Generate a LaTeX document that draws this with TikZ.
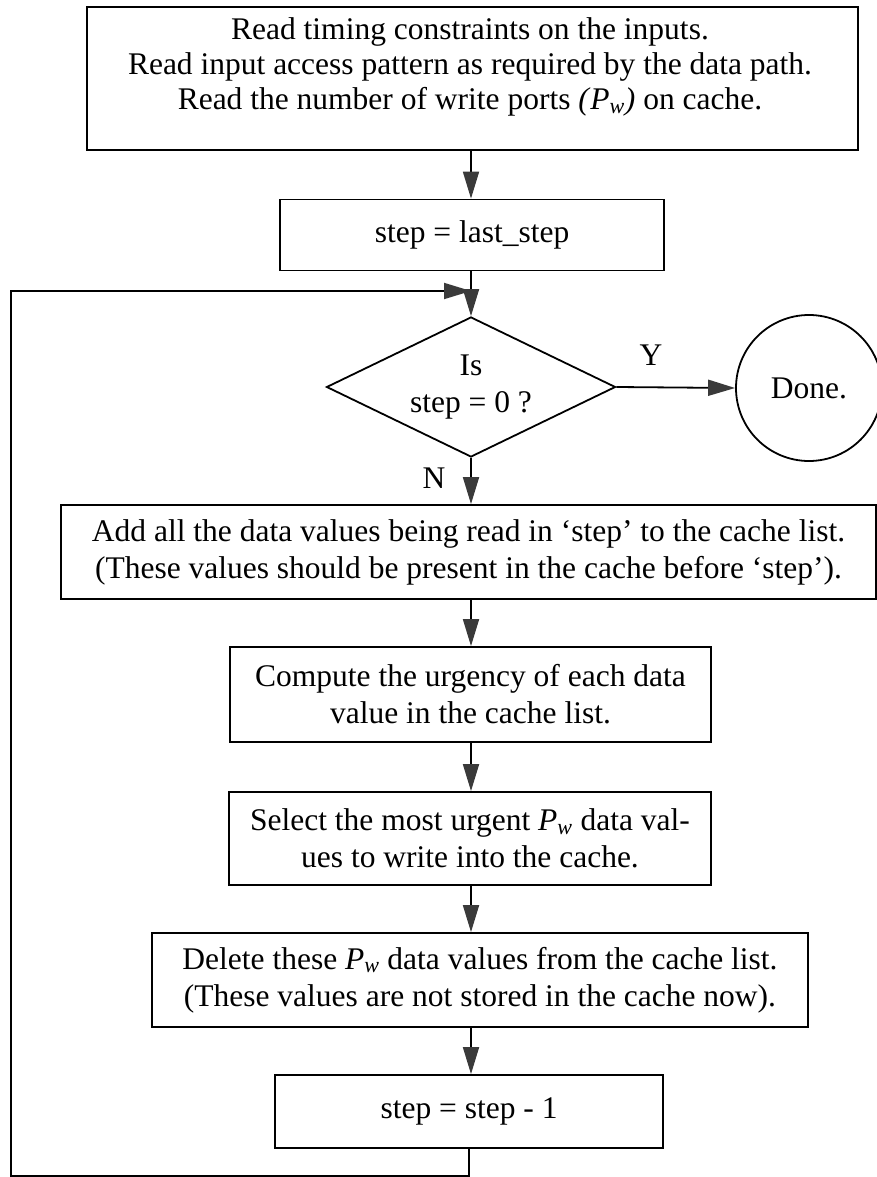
\documentclass[tikz,border=0pt]{standalone}
\usepackage{fontspec}
\setmainfont{Liberation Serif}
\usetikzlibrary{arrows.meta,shapes.geometric}
\definecolor{tipgray}{HTML}{3A3A3A}
\newcommand{\Pw}{\textit{P}\textsubscript{\textit{w}}}
\begin{document}
\begin{tikzpicture}[x=1pt,y=-1pt,
  txt/.style={align=center,inner sep=0pt,font=\fontsize{31.5}{37}\selectfont},
  box/.style={txt,draw,line width=1.8pt},
  conn/.style={line width=1.8pt,-{Triangle[length=27pt,width=16pt,fill=tipgray,color=tipgray]}},
  plain/.style={line width=1.8pt}]
\useasboundingbox (0,0) rectangle (877,1177);

% boxes
\node[box,minimum width=771pt,minimum height=143pt] (b1) at (472.5,78.5) {};
\node[txt,font=\fontsize{31.5}{35}\selectfont] (t1) at (470,67) {Read timing constraints on the inputs.\\Read input access pattern as required by the data path.\\Read the number of write ports \textit{(}\Pw\textit{)} on cache.};
\node[box,minimum width=384pt,minimum height=71pt] (b2) at (472,235) {step = last\_step};
\node[box,diamond,aspect=2.06,minimum width=289pt,minimum height=140pt] (d) at (471,387) {Is\\step = 0 ?};
\node[txt,draw,circle,line width=1.8pt,minimum size=146pt] (done) at (809,388) {Done.};
\node[box,minimum width=815pt,minimum height=94pt] (b3) at (468.5,552) {Add all the data values being read in `step' to the cache list.\\(These values should be present in the cache before `step').};
\node[box,minimum width=481pt,minimum height=95pt] (b4) at (470.5,694.5) {Compute the urgency of each data\\value in the cache list.};
\node[box,minimum width=482pt,minimum height=93pt] (b5) at (470,838.5) {Select the most urgent \Pw\ data val-\\ues to write into the cache.};
\node[box,minimum width=656pt,minimum height=94pt] (b6) at (480,980) {Delete these \Pw\ data values from the cache list.\\(These values are not stored in the cache now).};
\node[box,minimum width=388pt,minimum height=73pt] (b7) at (469,1111.5) {step = step - 1};

% labels
\node[txt] (ly) at (651,355) {Y};
\node[txt] (ln) at (434,478) {N};

% loop coordinates
\coordinate (lb) at (11,1176);
\coordinate (lt) at (11,291);
\coordinate (j) at (471,291);

% connectors
\draw[conn] (d.north |- b1.south) -- (d.north |- b2.north);
\draw[conn] (d.north |- b2.south) -- (d.north);
\draw[conn] (d.east) -- (done.west);
\draw[conn] (d.south) -- (d.south |- b3.north);
\draw[conn] (d.south |- b3.south) -- (d.south |- b4.north);
\draw[conn] (d.south |- b4.south) -- (d.south |- b5.north);
\draw[conn] (d.south |- b5.south) -- (d.south |- b6.north);
\draw[conn] (d.south |- b6.south) -- (d.south |- b7.north);
\draw[conn] (b7.south) |- (lb) -- (lt) -- (j);
\end{tikzpicture}
\end{document}
